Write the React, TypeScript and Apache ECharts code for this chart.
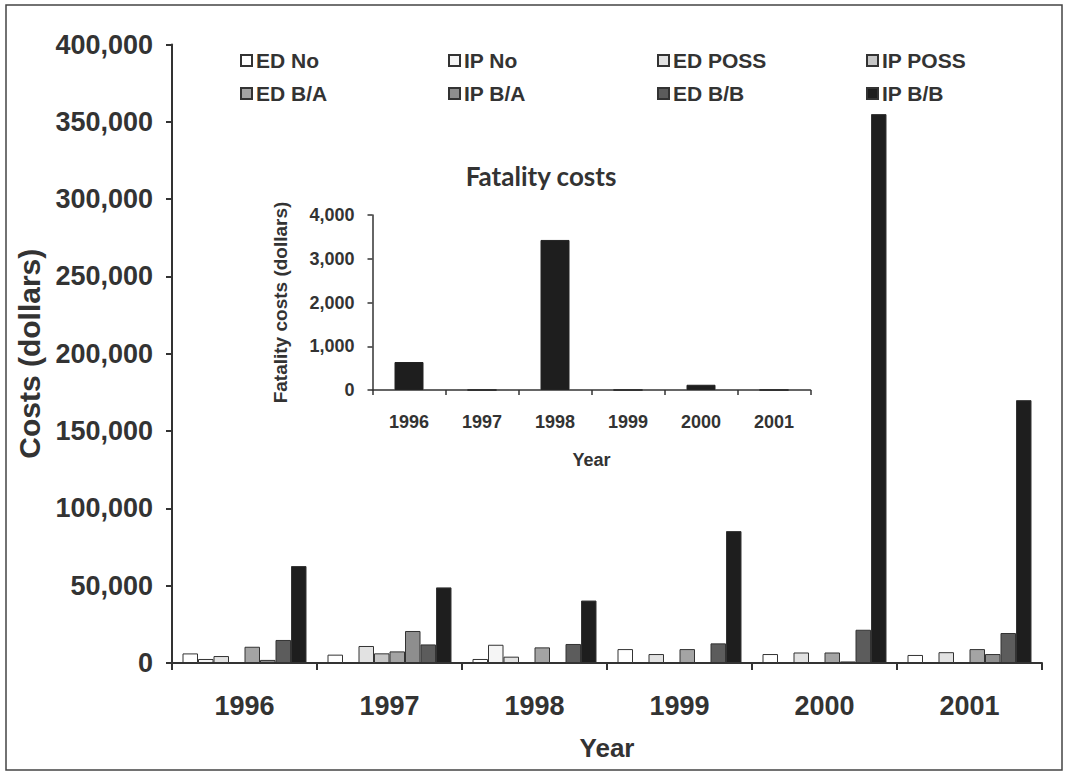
import React, { useEffect, useRef } from "react";
import * as echarts from "echarts";

const years = ["1996", "1997", "1998", "1999", "2000", "2001"];
const seriesNames = ["ED No", "IP No", "ED POSS", "IP POSS", "ED B/A", "IP B/A", "ED B/B", "IP B/B"];
const edNo = [6200, 5400, 2600, 9000, 5800, 5200];
const ipNo = [2600, 0, 11800, 0, 0, 0];
const edPoss = [4500, 11000, 4100, 5800, 6800, 7000];
const ipPoss = [0, 6250, 0, 0, 0, 0];
const edBA = [10500, 7500, 10100, 9000, 6800, 9000];
const ipBA = [2000, 20700, 0, 0, 1000, 5800];
const edBB = [14900, 12000, 12300, 12700, 21500, 19400];
const ipBB = [62700, 48900, 40400, 85300, 355000, 170000];
const fatalityCosts = [640, 0, 3430, 0, 120, 0];

const seriesValues = [edNo, ipNo, edPoss, ipPoss, edBA, ipBA, edBB, ipBB];
const seriesColors = ["#ffffff", "#f5f5f5", "#e2e2e2", "#c6c6c6", "#a4a4a4", "#8e8e8e", "#5c5c5c", "#1e1e1e"];

const TXT = "#333333";
const FONT = "'Liberation Sans', Arial, sans-serif";
const fmt = (v: number) => v.toLocaleString("en-US");

export default function App() {
  const ref = useRef<HTMLDivElement>(null);
  useEffect(() => {
    if (!ref.current) return;
    const chart = echarts.init(ref.current, null, { renderer: "svg" });
    const legendLeft = [235, 443, 652, 861];
    const legendTop = [45, 78];
    const option: any = {
      animation: false,
      backgroundColor: "#ffffff",
      textStyle: { fontFamily: FONT },
      legend: seriesNames.map((n, i) => ({
        data: [n],
        left: legendLeft[i % 4],
        top: legendTop[Math.floor(i / 4)],
        icon: "rect",
        itemWidth: 11,
        itemHeight: 11,
        itemGap: 0,
        selectedMode: false,
        textStyle: { fontSize: 21, fontWeight: "bold", color: TXT, fontFamily: FONT, padding: [0, 0, 0, -1] },
      })),
      grid: [
        { left: 172, right: 24, top: 44.5, bottom: 114 },
        { left: 372.5, width: 438, top: 215, bottom: 387 },
      ],
      xAxis: [
        {
          type: "category",
          data: years,
          gridIndex: 0,
          name: "Year",
          nameLocation: "middle",
          nameGap: 72,
          nameTextStyle: { fontSize: 26, fontWeight: "bold", color: TXT },
          axisLine: { lineStyle: { color: "#333", width: 2 } },
          axisTick: { show: true, length: 7, lineStyle: { color: "#333", width: 2 } },
          axisLabel: { fontSize: 27, fontWeight: "bold", color: TXT, margin: 29 },
        },
        {
          type: "category",
          data: years,
          gridIndex: 1,
          name: "Year",
          nameLocation: "middle",
          nameGap: 61,
          nameTextStyle: { fontSize: 18, fontWeight: "bold", color: TXT },
          axisLine: { lineStyle: { color: "#333", width: 1.5 } },
          axisTick: { show: true, length: 5, lineStyle: { color: "#333", width: 1.5 } },
          axisLabel: { fontSize: 18, fontWeight: "bold", color: TXT, margin: 23 },
        },
      ],
      yAxis: [
        {
          type: "value",
          gridIndex: 0,
          min: 0,
          max: 400000,
          interval: 50000,
          name: "Costs (dollars)",
          nameLocation: "middle",
          nameGap: 124,
          nameRotate: 90,
          nameTextStyle: { fontSize: 30, fontWeight: "bold", color: TXT },
          axisLine: { show: true, lineStyle: { color: "#333", width: 2 } },
          axisTick: { show: true, length: 6, lineStyle: { color: "#333", width: 2 } },
          splitLine: { show: false },
          axisLabel: { fontSize: 27, fontWeight: "bold", color: TXT, margin: 19, formatter: fmt },
        },
        {
          type: "value",
          gridIndex: 1,
          min: 0,
          max: 4000,
          interval: 1000,
          name: "Fatality costs (dollars)",
          nameLocation: "middle",
          nameGap: 83,
          nameRotate: 90,
          nameTextStyle: { fontSize: 19, fontWeight: "bold", color: TXT },
          axisLine: { show: true, lineStyle: { color: "#333", width: 1.5 } },
          axisTick: { show: true, length: 5, lineStyle: { color: "#333", width: 1.5 } },
          splitLine: { show: false },
          axisLabel: { fontSize: 18, fontWeight: "bold", color: TXT, margin: 18, formatter: fmt },
        },
      ],
      series: [
        ...seriesNames.map((n, i) => ({
          name: n,
          type: "bar",
          xAxisIndex: 0,
          yAxisIndex: 0,
          data: seriesValues[i],
          barWidth: 15.5,
          barGap: "0%",
          itemStyle: { color: seriesColors[i], borderColor: "#333", borderWidth: 1 },
        })),
        {
          name: "Fatality costs",
          type: "bar",
          xAxisIndex: 1,
          yAxisIndex: 1,
          data: fatalityCosts,
          barWidth: 29,
          itemStyle: { color: "#1e1e1e", borderColor: "#222", borderWidth: 1 },
        },
      ],
      graphic: [
        {
          type: "rect",
          shape: { x: 6, y: 5, width: 1056, height: 765 },
          style: { fill: "none", stroke: "#444", lineWidth: 1.5 },
          silent: true,
        },
        {
          type: "text",
          x: 541,
          y: 176,
          style: {
            text: "Fatality costs",
            fill: TXT,
            font: "bold 26px Lato, 'Open Sans', sans-serif",
            textAlign: "center",
            textVerticalAlign: "middle",
          },
        },
      ],
    };
    chart.setOption(option);
    return () => chart.dispose();
  }, []);
  return <div ref={ref} style={{ position: "absolute", left: 0, top: 0, width: 1066, height: 777 }} />;
}
